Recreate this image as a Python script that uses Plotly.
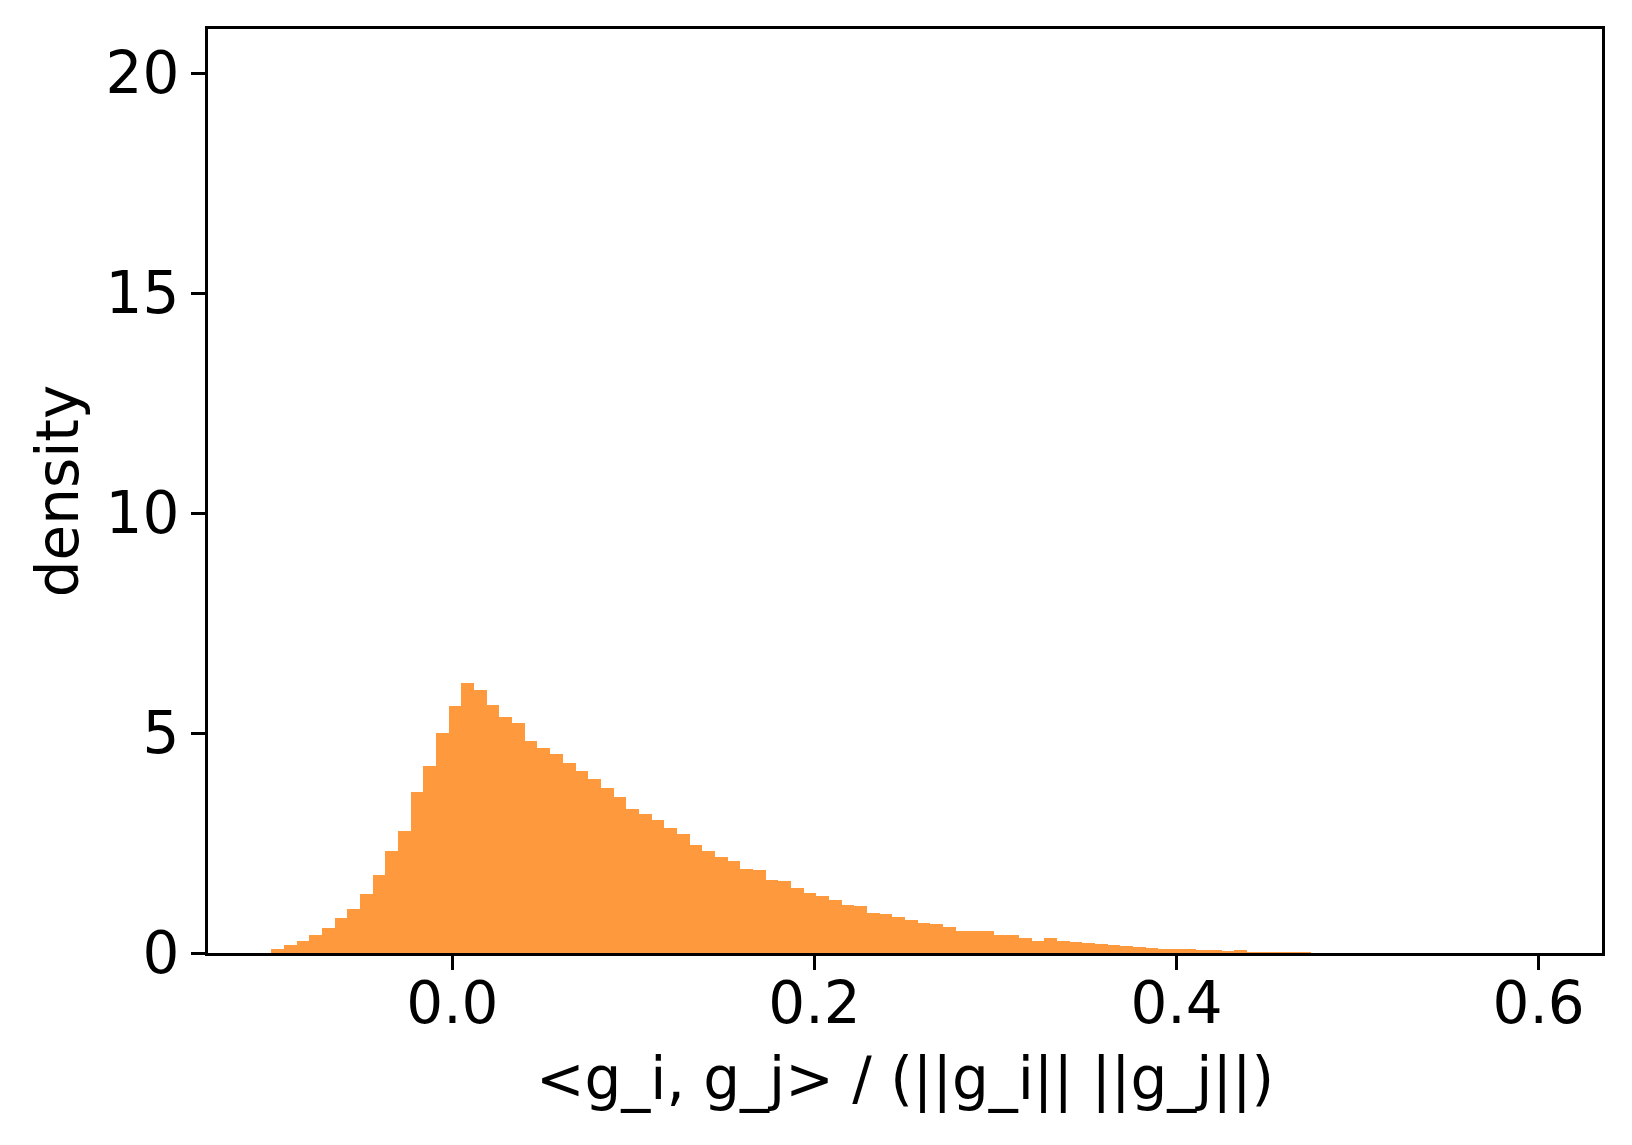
import numpy as np
import plotly.graph_objects as go

# Histogram data (density), 100 bins from -0.1 to 0.6
bin_lo = -0.1
bin_hi = 0.6
n_bins = 100
density = [
    0.10, 0.18, 0.28, 0.40, 0.57, 0.79, 1.00, 1.33, 1.77, 2.31,
    2.77, 3.66, 4.25, 5.00, 5.61, 6.14, 5.98, 5.64, 5.36, 5.23,
    4.82, 4.66, 4.52, 4.32, 4.13, 3.95, 3.75, 3.54, 3.27, 3.16,
    3.02, 2.84, 2.70, 2.45, 2.31, 2.18, 2.08, 1.92, 1.88, 1.67,
    1.63, 1.47, 1.36, 1.29, 1.20, 1.08, 1.06, 0.92, 0.88, 0.81,
    0.76, 0.69, 0.65, 0.58, 0.51, 0.51, 0.49, 0.42, 0.40, 0.35,
    0.28, 0.33, 0.28, 0.26, 0.22, 0.21, 0.18, 0.16, 0.13, 0.11,
    0.10, 0.09, 0.08, 0.07, 0.065, 0.05, 0.065, 0.03, 0.025, 0.02,
    0.02, 0.015, 0.008, 0.007, 0.006, 0.005, 0.004, 0.004, 0.003, 0.003,
    0.002, 0.002, 0.002, 0.001, 0.001, 0.001, 0.001, 0.0005, 0.0005, 0.0005,
]
x_ticks = [0.0, 0.2, 0.4, 0.6]
x_tick_labels = ["0.0", "0.2", "0.4", "0.6"]
y_ticks = [0, 5, 10, 15, 20]
y_tick_labels = ["0", "5", "10", "15", "20"]

edges = np.linspace(bin_lo, bin_hi, n_bins + 1)
centers = (edges[:-1] + edges[1:]) / 2
width = edges[1] - edges[0]

FONT = "DejaVu Sans"
FS = 58

fig = go.Figure()
fig.add_trace(go.Bar(
    x=centers, y=density, width=width,
    marker=dict(color="rgba(255,127,14,0.8)", line=dict(width=0)),
    showlegend=False,
))

span = bin_hi - bin_lo
fig.update_layout(
    width=1624, height=1137,
    paper_bgcolor="white", plot_bgcolor="white",
    margin=dict(l=200, r=30, t=21, b=192, pad=0),
    font=dict(family=FONT, size=FS, color="black"),
    bargap=0,
    xaxis=dict(
        range=[bin_lo - 0.05 * span, bin_hi + 0.05 * span],
        tickvals=x_ticks, ticktext=x_tick_labels,
        ticks="outside", ticklen=14, tickwidth=3, tickcolor="black",
        ticklabelstandoff=-17,
        showline=True, linecolor="black", linewidth=3, mirror=True,
        showgrid=False, zeroline=False,
        tickfont=dict(family=FONT, size=FS),
        title=dict(text="<g_i, g_j> / (||g_i|| ||g_j||)", font=dict(family=FONT, size=FS), standoff=23),
        automargin=False,
    ),
    yaxis=dict(
        range=[0, 21],
        tickvals=y_ticks, ticktext=y_tick_labels,
        ticks="outside", ticklen=14, tickwidth=3, tickcolor="black",
        showline=True, linecolor="black", linewidth=3, mirror=True,
        showgrid=False, zeroline=False,
        tickfont=dict(family=FONT, size=FS),
        title=dict(text="density", font=dict(family=FONT, size=FS), standoff=9),
        automargin=False,
    ),
)

fig.write_html("out.html")
